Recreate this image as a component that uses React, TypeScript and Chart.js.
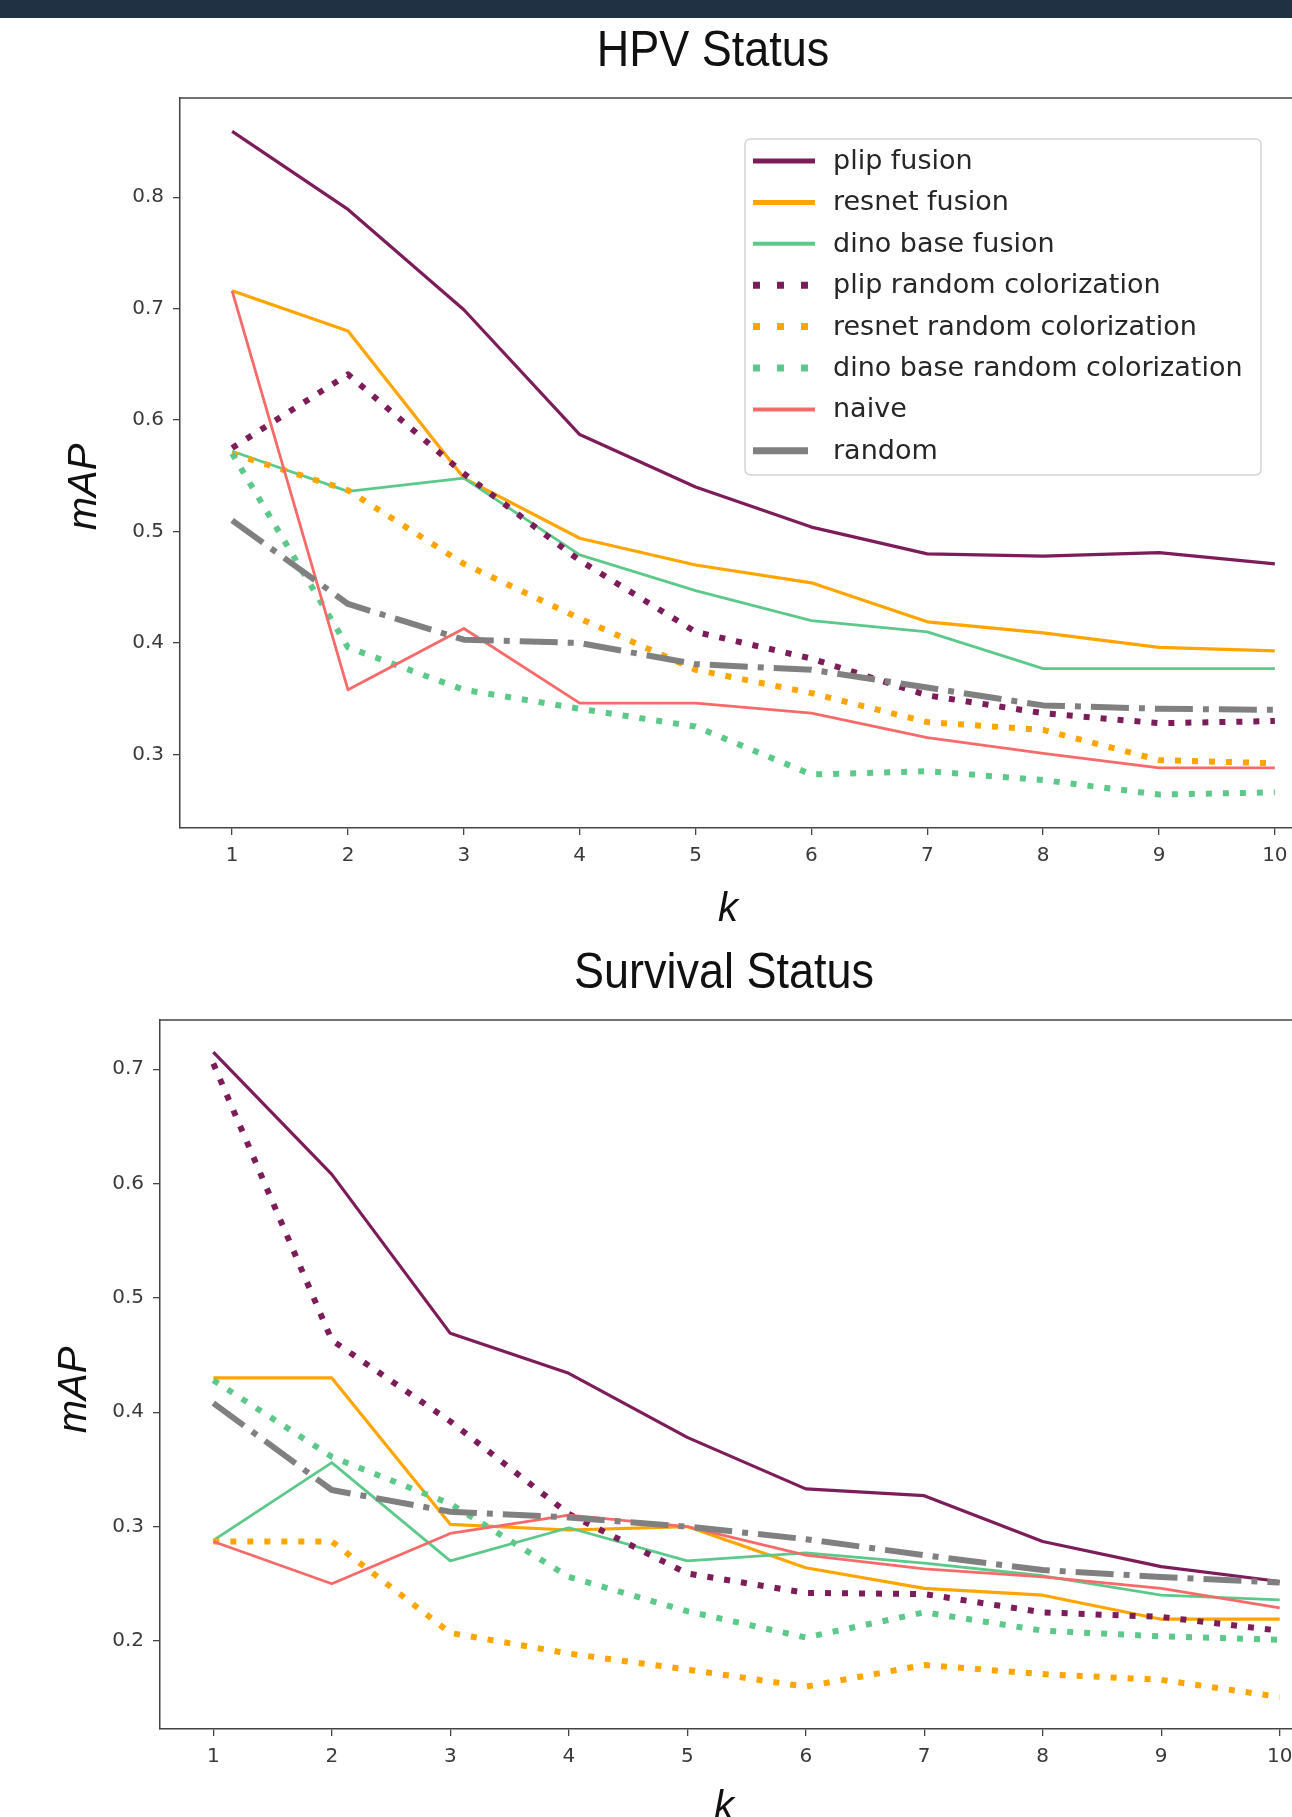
import React, { useEffect, useRef } from "react";
import { Chart, registerables } from "chart.js";

Chart.register(...registerables);

// ---------- data ----------
const kValues = [1, 2, 3, 4, 5, 6, 7, 8, 9, 10];
const hpvYTicks = [0.3, 0.4, 0.5, 0.6, 0.7, 0.8];
const survYTicks = [0.2, 0.3, 0.4, 0.5, 0.6, 0.7];

const seriesLabels = [
  "plip fusion",
  "resnet fusion",
  "dino base fusion",
  "plip random colorization",
  "resnet random colorization",
  "dino base random colorization",
  "naive",
  "random",
];

// HPV Status
const plipFusionHpv = [0.859, 0.789, 0.699, 0.587, 0.54, 0.504, 0.48, 0.478, 0.481, 0.471];
const resnetFusionHpv = [0.716, 0.68, 0.548, 0.494, 0.47, 0.454, 0.419, 0.409, 0.396, 0.393];
const dinoFusionHpv = [0.572, 0.536, 0.548, 0.479, 0.447, 0.42, 0.41, 0.377, 0.377, 0.377];
const plipRandomHpv = [0.575, 0.641, 0.552, 0.474, 0.41, 0.386, 0.353, 0.337, 0.328, 0.33];
const resnetRandomHpv = [0.57, 0.537, 0.471, 0.422, 0.376, 0.355, 0.329, 0.322, 0.295, 0.292];
const dinoRandomHpv = [0.57, 0.396, 0.358, 0.341, 0.325, 0.282, 0.285, 0.277, 0.264, 0.266];
const naiveHpv = [0.716, 0.358, 0.413, 0.346, 0.346, 0.337, 0.315, 0.301, 0.288, 0.288];
const randomHpv = [0.51, 0.435, 0.403, 0.4, 0.381, 0.376, 0.36, 0.344, 0.341, 0.34];

// Survival Status
const plipFusionSurv = [0.715, 0.608, 0.469, 0.434, 0.378, 0.333, 0.327, 0.287, 0.265, 0.252];
const resnetFusionSurv = [0.43, 0.43, 0.302, 0.297, 0.3, 0.264, 0.246, 0.24, 0.219, 0.219];
const dinoFusionSurv = [0.288, 0.356, 0.27, 0.299, 0.27, 0.277, 0.268, 0.257, 0.24, 0.236];
const plipRandomSurv = [0.705, 0.463, 0.392, 0.311, 0.259, 0.242, 0.241, 0.225, 0.221, 0.209];
const resnetRandomSurv = [0.287, 0.287, 0.207, 0.189, 0.175, 0.16, 0.179, 0.171, 0.166, 0.151];
const dinoRandomSurv = [0.428, 0.361, 0.32, 0.256, 0.226, 0.203, 0.225, 0.209, 0.204, 0.201];
const naiveSurv = [0.287, 0.25, 0.294, 0.31, 0.3, 0.275, 0.263, 0.256, 0.246, 0.229];
const randomSurv = [0.408, 0.332, 0.313, 0.308, 0.3, 0.289, 0.275, 0.262, 0.256, 0.251];

// ---------- styles ----------
const PURPLE = "#7c1d5a";
const ORANGE = "#ffa500";
const GREEN = "#5cc98b";
const NAIVE = "#f86a6a";
const GRAY = "#808080";

type LineStyle = { color: string; width: number; dash: number[]; legendDash: number[]; legendWidth: number };
const STYLES: LineStyle[] = [
  { color: PURPLE, width: 3.2, dash: [], legendDash: [], legendWidth: 5 },
  { color: ORANGE, width: 3.2, dash: [], legendDash: [], legendWidth: 5 },
  { color: GREEN, width: 2.8, dash: [], legendDash: [], legendWidth: 4 },
  { color: PURPLE, width: 6, dash: [6, 11], legendDash: [7, 17], legendWidth: 7 },
  { color: ORANGE, width: 6, dash: [6, 11], legendDash: [7, 17], legendWidth: 7 },
  { color: GREEN, width: 6, dash: [6, 11], legendDash: [7, 17], legendWidth: 7 },
  { color: NAIVE, width: 2.8, dash: [], legendDash: [], legendWidth: 4 },
  { color: GRAY, width: 6, dash: [38, 10, 6, 10], legendDash: [], legendWidth: 7 },
];

function makeDatasets(values: number[][]) {
  return values.map((vals, i) => ({
    label: seriesLabels[i],
    data: kValues.map((k, j) => ({ x: k, y: vals[j] })),
    borderColor: STYLES[i].color,
    backgroundColor: STYLES[i].color,
    borderWidth: STYLES[i].width,
    borderDash: STYLES[i].dash,
    borderCapStyle: "butt" as const,
    borderJoinStyle: "round" as const,
    pointRadius: 0,
    pointHoverRadius: 0,
    tension: 0,
    fill: false,
    order: values.length - 1 - i,
  }));
}

function stretchedText(ctx: CanvasRenderingContext2D, text: string, x: number, y: number, sy: number) {
  ctx.save();
  ctx.translate(x, y);
  ctx.scale(1, sy);
  ctx.fillText(text, 0, 0);
  ctx.restore();
}

const decorPlugin = {
  id: "decor",
  afterDraw(chart: any, _args: any, opts: any) {
    const { ctx, chartArea } = chart;
    ctx.save();
    // top & right spines
    ctx.strokeStyle = "#444";
    ctx.lineWidth = 1.5;
    ctx.setLineDash([]);
    ctx.beginPath();
    ctx.moveTo(chartArea.left, chartArea.top);
    ctx.lineTo(chartArea.right, chartArea.top);
    ctx.lineTo(chartArea.right, chartArea.bottom);
    ctx.stroke();

    // title
    ctx.fillStyle = "#111";
    ctx.font = "45px 'Liberation Sans', Arial, sans-serif";
    ctx.textAlign = "center";
    ctx.textBaseline = "alphabetic";
    stretchedText(ctx, opts.title, opts.titleX, opts.titleY, 1.12);

    // x label
    ctx.font = "italic 40px 'Liberation Sans', Arial, sans-serif";
    ctx.fillText("k", opts.xLabelX, opts.xLabelY);

    // y label
    ctx.save();
    ctx.translate(opts.yLabelX, opts.yLabelY);
    ctx.rotate(-Math.PI / 2);
    ctx.textBaseline = "middle";
    ctx.fillText("mAP", 0, 0);
    ctx.restore();

    if (opts.legend) {
      const bx = 745, by = 139, bw = 516, bh = 336, r = 6;
      ctx.beginPath();
      ctx.moveTo(bx + r, by);
      ctx.lineTo(bx + bw - r, by);
      ctx.quadraticCurveTo(bx + bw, by, bx + bw, by + r);
      ctx.lineTo(bx + bw, by + bh - r);
      ctx.quadraticCurveTo(bx + bw, by + bh, bx + bw - r, by + bh);
      ctx.lineTo(bx + r, by + bh);
      ctx.quadraticCurveTo(bx, by + bh, bx, by + bh - r);
      ctx.lineTo(bx, by + r);
      ctx.quadraticCurveTo(bx, by, bx + r, by);
      ctx.closePath();
      ctx.fillStyle = "rgba(255,255,255,0.85)";
      ctx.fill();
      ctx.strokeStyle = "#d4d4d4";
      ctx.lineWidth = 1.5;
      ctx.stroke();

      const datasets = chart.data.datasets;
      datasets.forEach((ds: any, i: number) => {
        const y = 161 + i * 41.4;
        const st = STYLES[i];
        ctx.strokeStyle = ds.borderColor;
        ctx.lineWidth = st.legendWidth;
        ctx.lineCap = "butt";
        ctx.setLineDash(st.legendDash);
        ctx.beginPath();
        ctx.moveTo(753, y);
        ctx.lineTo(i === 7 ? 808 : 815, y);
        ctx.stroke();
        ctx.setLineDash([]);
        ctx.fillStyle = "#262626";
        ctx.font = "27px 'DejaVu Sans', sans-serif";
        ctx.textAlign = "left";
        ctx.textBaseline = "middle";
        ctx.fillText(ds.label, 833, y + 1);
      });
    }
    ctx.restore();
  },
};

function buildConfig(values: number[][], yMin: number, yMax: number, yTicks: number[], padding: any, decor: any) {
  const tickFont = { family: "'DejaVu Sans', sans-serif", size: 20 };
  return {
    type: "line" as const,
    data: { datasets: makeDatasets(values) },
    plugins: [decorPlugin],
    options: {
      animation: false as const,
      responsive: false,
      maintainAspectRatio: false,
      devicePixelRatio: 1,
      layout: { padding },
      plugins: {
        legend: { display: false },
        tooltip: { enabled: false },
        title: { display: false },
        decor,
      },
      scales: {
        x: {
          type: "linear" as const,
          min: 0.55,
          max: 10.45,
          afterBuildTicks: (s: any) => {
            s.ticks = kValues.map((v) => ({ value: v }));
          },
          afterFit: (s: any) => {
            s.height = 50;
          },
          ticks: {
            autoSkip: false,
            maxRotation: 0,
            minRotation: 0,
            padding: 9,
            color: "#3a3a3a",
            font: tickFont,
            callback: (v: any) => String(v),
          },
          grid: {
            drawOnChartArea: false,
            drawTicks: true,
            tickLength: 7,
            color: "#444",
            lineWidth: 1.3,
          },
          border: { display: true, color: "#444", width: 1.5 },
        },
        y: {
          type: "linear" as const,
          min: yMin,
          max: yMax,
          afterBuildTicks: (s: any) => {
            s.ticks = yTicks.map((v) => ({ value: v }));
          },
          afterFit: (s: any) => {
            s.width = 60;
          },
          ticks: {
            autoSkip: false,
            padding: 9,
            color: "#3a3a3a",
            font: tickFont,
            callback: (v: any) => Number(v).toFixed(1),
          },
          grid: {
            drawOnChartArea: false,
            drawTicks: true,
            tickLength: 7,
            color: "#444",
            lineWidth: 1.3,
          },
          border: { display: true, color: "#444", width: 1.5 },
        },
      },
    },
  };
}

function LineChart(props: { config: any; width: number; height: number; top: number }) {
  const ref = useRef<HTMLCanvasElement | null>(null);
  useEffect(() => {
    if (!ref.current) return;
    const chart = new Chart(ref.current, props.config);
    return () => chart.destroy();
  }, []);
  return (
    <canvas
      ref={ref}
      width={props.width}
      height={props.height}
      style={{ position: "absolute", left: 0, top: props.top, width: props.width, height: props.height }}
    />
  );
}

export default function App() {
  const hpvConfig = buildConfig(
    [plipFusionHpv, resnetFusionHpv, dinoFusionHpv, plipRandomHpv, resnetRandomHpv, dinoRandomHpv, naiveHpv, randomHpv],
    0.234,
    0.889,
    hpvYTicks,
    { left: 120, top: 98, right: 73, bottom: 52 },
    { title: "HPV Status", titleX: 713, titleY: 66, xLabelX: 728, xLabelY: 921, yLabelX: 85, yLabelY: 487, legend: true }
  );
  const survConfig = buildConfig(
    [plipFusionSurv, resnetFusionSurv, dinoFusionSurv, plipRandomSurv, resnetRandomSurv, dinoRandomSurv, naiveSurv, randomSurv],
    0.123,
    0.743,
    survYTicks,
    { left: 100, top: 90, right: 67, bottom: 38 },
    { title: "Survival Status", titleX: 724, titleY: 58, xLabelX: 724, xLabelY: 889, yLabelX: 75, yLabelY: 460, legend: false }
  );
  return (
    <div
      style={{
        position: "absolute",
        left: 0,
        top: 0,
        width: 1292,
        height: 1817,
        overflow: "hidden",
        background: "#ffffff",
      }}
    >
      <LineChart config={hpvConfig} width={1400} height={930} top={0} />
      <LineChart config={survConfig} width={1400} height={887} top={930} />
      <div style={{ position: "absolute", left: 0, top: 0, width: 1292, height: 18, background: "#1f3142" }} />
    </div>
  );
}
